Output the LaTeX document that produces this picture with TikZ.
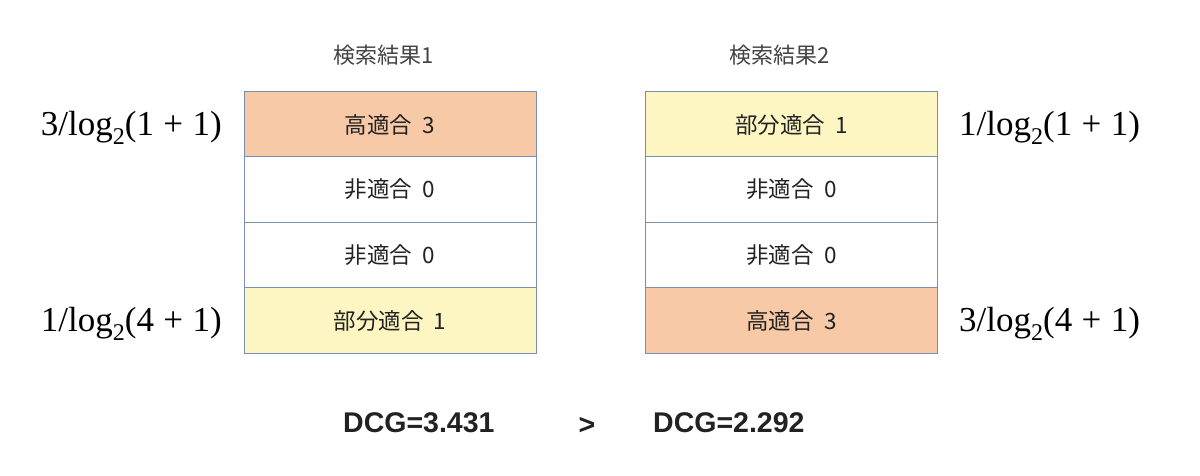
\documentclass[tikz,border=0pt]{standalone}
\usepackage{fontspec}
\setmainfont{Liberation Serif}
\newfontfamily\jpfont{Noto Sans CJK JP}
\newfontfamily\boldsans{Liberation Sans}
\definecolor{hi}{HTML}{F7C9A6}
\definecolor{part}{HTML}{FDF6C3}
\definecolor{edge}{HTML}{7A8FB0}
\definecolor{txt}{HTML}{222222}
\tikzset{
  row/.style={draw=edge, line width=1pt, minimum width=292pt, minimum height=65.3pt, inner sep=0pt, text=txt, font=\jpfont\fontsize{22.5}{22.5}\selectfont},
  hirow/.style={row, fill=hi},
  partrow/.style={row, fill=part},
  nonrow/.style={row, fill=white},
  title/.style={text=txt!85, font=\jpfont\fontsize{22}{22}\selectfont, inner sep=0pt},
  formula/.style={text=black, font=\fontsize{35}{35}\selectfont, inner sep=0pt},
  score/.style={text=txt, font=\boldsans\bfseries\fontsize{28.5}{28.5}\selectfont, inner sep=0pt}
}
\newcommand{\lgf}[2]{#1/log\raisebox{-0.28em}{\fontsize{24}{24}\selectfont 2}(#2\hspace{0.27em}+\hspace{0.27em}1)}
\newcommand{\sep}{\hspace{0.45em}}
\begin{document}
\begin{tikzpicture}[x=1pt,y=-1pt]
\useasboundingbox (0,0) rectangle (1200,475);
% left column
\node[hirow]   (l1) at (390,124.5) {高適合\sep 3};
\node[nonrow]  (l2) at (390,189.5) {非適合\sep 0};
\node[nonrow]  (l3) at (390,255)   {非適合\sep 0};
\node[partrow] (l4) at (390,320.5) {部分適合\sep 1};
% right column
\node[partrow] (r1) at (791.5,124.5) {部分適合\sep 1};
\node[nonrow]  (r2) at (791.5,189.5) {非適合\sep 0};
\node[nonrow]  (r3) at (791.5,255)   {非適合\sep 0};
\node[hirow]   (r4) at (791.5,320.5) {高適合\sep 3};
% titles
\node[title] (t1) at (384,55) {検索結果1};
\node[title] (t2) at (780,55) {検索結果2};
% formulas
\node[formula, anchor=base east] (f1) at (222,135) {\lgf{3}{1}};
\node[formula, anchor=base east] (f2) at (222,331) {\lgf{1}{4}};
\node[formula, anchor=base west] (f3) at (959,135) {\lgf{1}{1}};
\node[formula, anchor=base west] (f4) at (959,331) {\lgf{3}{4}};
% scores
\node[score, anchor=west] (d1) at (343,423) {DCG=3.431};
\node[score] (gt) at (587,426) {>};
\node[score, anchor=west] (d2) at (653,423) {DCG=2.292};
\end{tikzpicture}
\end{document}
